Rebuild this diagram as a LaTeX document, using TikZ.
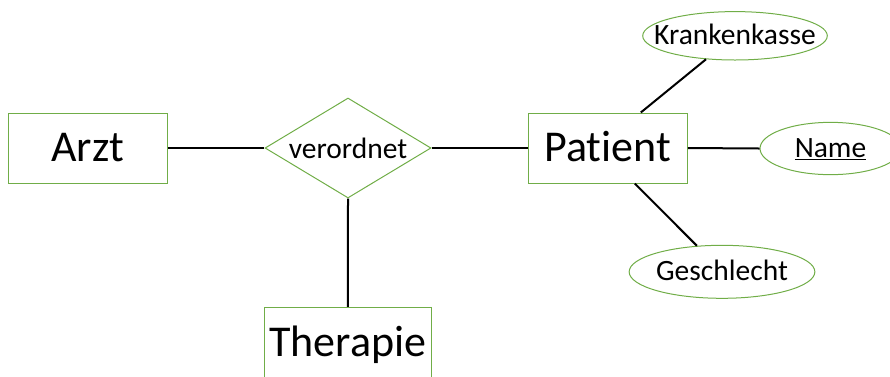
\documentclass[tikz,border=0pt]{standalone}
\usepackage{fontspec}
\setmainfont{Carlito}[Ligatures={NoCommon}]
\usetikzlibrary{shapes.geometric}
\definecolor{ergreen}{RGB}{112,173,71}

\begin{document}
\begin{tikzpicture}[x=1pt,y=-1pt,
  entity/.style={draw=ergreen, line width=1pt, rectangle, inner sep=0pt,
    minimum width=159pt, minimum height=70pt,
    font=\fontsize{44}{50}\selectfont, text height=30pt, text depth=2.6pt},
  relation/.style={draw=ergreen, line width=1pt, diamond, inner sep=0pt,
    minimum width=166pt, minimum height=100pt,
    font=\fontsize{29.5}{35}\selectfont, text height=20pt, text depth=0pt},
  attribute/.style={draw=ergreen, line width=1pt, ellipse, inner sep=0pt,
    font=\fontsize{29.5}{35}\selectfont, text height=18pt, text depth=0.6pt},
  link/.style={draw=black, line width=2pt}]

  \useasboundingbox (0,0) rectangle (890,376);
  \clip (0,0) rectangle (890,376);

  % entities
  \node[entity] (arzt) at (87.8,148) {Arzt};
  \node[entity] (patient) at (607.8,148) {Patient};
  \node[entity, minimum width=167.7pt] (therapie) at (347.9,342.3) {Therapie};

  % relationship
  \node[relation] (rel) at (348,148) {\makebox[0pt]{verordnet}};

  % attributes of Patient
  \node[attribute, minimum width=184.6pt, minimum height=48.4pt] (kasse) at (735,35.8) {\makebox[0pt]{Krankenkasse}};
  \node[attribute, minimum width=141pt, minimum height=52.3pt] (name) at (830.5,148.5) {\makebox[0pt]{\underline{Name}}};
  \node[attribute, minimum width=185.7pt, minimum height=53pt] (geschlecht) at (722,271.8) {\makebox[0pt]{Geschlecht}};

  % connectors
  \draw[link] (arzt) -- (rel);
  \draw[link] (rel) -- (patient);
  \draw[link] (rel.south) -- (therapie.north);
  \draw[link] (patient.east) -- (name.west);
  \draw[link] ([xshift=33pt]patient.north) -- (kasse.219);
  \draw[link] ([xshift=27pt]patient.south) -- (geschlecht.134);
\end{tikzpicture}
\end{document}
